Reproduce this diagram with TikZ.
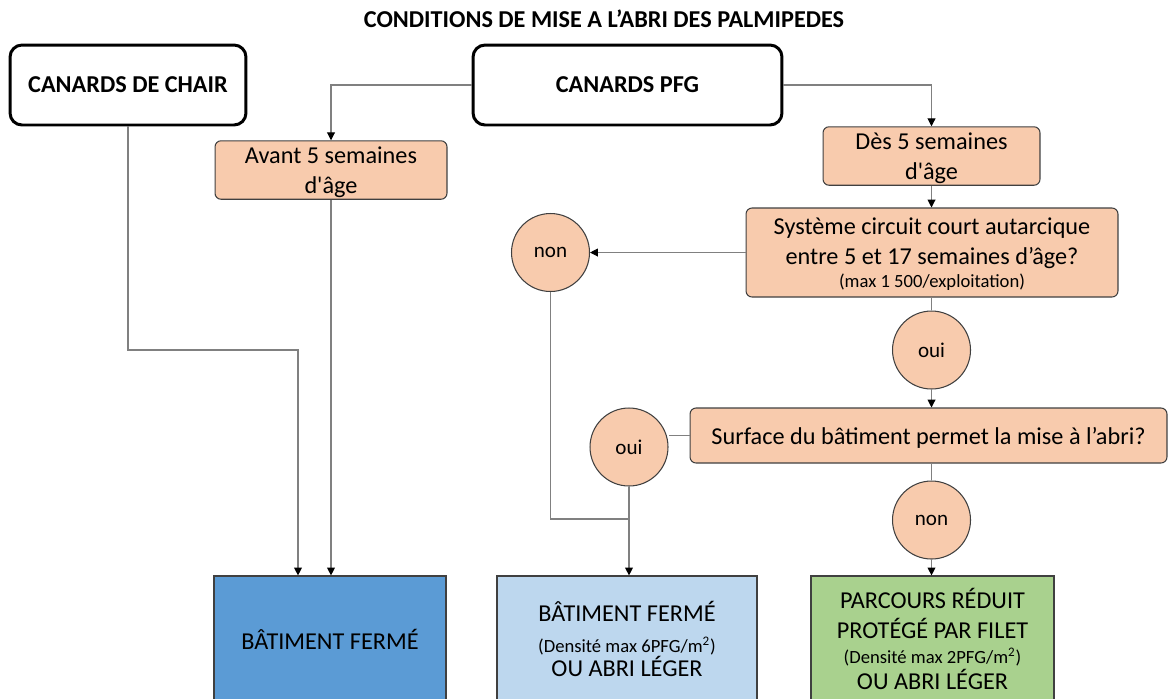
\documentclass[tikz,border=0pt]{standalone}
\usepackage{fontspec}
\setmainfont{Carlito}
\usepackage{xcolor}
\usepackage{tikz}
\usetikzlibrary{shapes.geometric, arrows.meta, positioning, calc}

\definecolor{peche}{HTML}{F8CBAD}
\definecolor{bleufonce}{HTML}{5B9BD5}
\definecolor{bleuclair}{HTML}{BDD7EE}
\definecolor{vertclair}{HTML}{A9D18E}
\definecolor{bordgris}{HTML}{404040}
\definecolor{liengris}{HTML}{808080}

\newcommand{\texte}{\fontsize{13.8}{17.1}\selectfont}
\newcommand{\petit}{\fontsize{10.6}{12.8}\selectfont}

\begin{document}
\begin{tikzpicture}[x=0.02cm, y=-0.02cm,
    categorie/.style={rectangle, draw=black, line width=1.7pt, rounded corners=0.24cm, font=\texte\bfseries, text centered, minimum height=1.6cm},
    etape/.style={rectangle, draw=bordgris, line width=0.6pt, fill=peche, rounded corners=0.12cm, font=\texte, align=center, text depth=0pt},
    reponse/.style={ellipse, draw=bordgris, line width=0.6pt, fill=peche, font=\fontsize{12}{14}\selectfont, minimum width=1.56cm, minimum height=1.56cm, inner sep=0pt},
    resultat/.style={rectangle, draw=bordgris, line width=0.7pt, font=\texte, align=center, minimum height=2.52cm},
    lien/.style={draw=liengris, line width=0.6pt},
    fleche/.style={lien, -{Triangle[length=4.5pt, width=4.5pt, color=black]}}]
    \useasboundingbox (0,0) rectangle (1168,698);

    % Nodes
    \node (titre) at (604,19) [font=\texte\bfseries] {CONDITIONS DE MISE A L'ABRI DES PALMIPEDES};

    \node (chair) at (128,85) [categorie, minimum width=4.72cm] {CANARDS DE CHAIR};
    \node (pfg) at (627.5,85) [categorie, minimum width=6.18cm] {CANARDS PFG};

    \node (avant) at (331,170) [etape, minimum width=4.64cm, minimum height=1.08cm] {Avant 5 semaines\\d\textquotesingle âge};
    \node (des) at (931.5,156) [etape, minimum width=4.34cm, minimum height=1.12cm] {Dès 5 semaines\\d\textquotesingle âge};

    \node (systeme) at (932,252.5) [etape, minimum width=7.44cm, minimum height=1.78cm] {Système circuit court autarcique\\entre 5 et 17 semaines d’âge?\\[-4pt]{\petit (max 1 500/exploitation)}};

    \node (non1) at (550.5,252.5) [reponse] {non};
    \node (oui1) at (931.5,350) [reponse] {oui};

    \node (surface) at (928.5,435.5) [etape, minimum width=9.54cm, minimum height=1.1cm] {Surface du bâtiment permet la mise à l’abri?};

    \node (oui2) at (629,447) [reponse] {oui};
    \node (non2) at (931.5,520) [reponse] {non};

    \node (bat1) at (330,639) [resultat, fill=bleufonce, minimum width=4.64cm] {BÂTIMENT FERMÉ};
    \node (bat2) at (627,639) [resultat, fill=bleuclair, minimum width=5.2cm] {BÂTIMENT FERMÉ\\{\petit (Densité max 6PFG/m\textsuperscript{2})}\\[-3.4pt]OU ABRI LÉGER};
    \node (parc) at (932.5,639) [resultat, fill=vertclair, minimum width=4.86cm] {PARCOURS RÉDUIT\\PROTÉGÉ PAR FILET\\[-3pt]{\petit (Densité max 2PFG/m\textsuperscript{2})}\\[-2.3pt]OU ABRI LÉGER};

    \coordinate (coude) at (298,350);
    \coordinate (jonction) at (629,519);

    % Edges
    \draw[fleche] (pfg.west) -| (avant.north);
    \draw[fleche] (pfg.east) -| (des.north);
    \draw[fleche] (des.south) -- (systeme.north -| des);
    \draw[fleche] (systeme.west) -- (non1.east);
    \draw[lien] (systeme.south -| oui1) -- (oui1.north);
    \draw[fleche] (oui1.south) -- (surface.north -| oui1);
    \draw[lien] (surface.west) -- (surface.west -| oui2.east);
    \draw[lien] (surface.south -| non2) -- (non2.north);
    \draw[fleche] (non2.south) -- (parc.north -| non2);
    \draw[fleche] (oui2.south) -- (bat2.north -| oui2);
    \draw[lien] (non1.south) |- (jonction);
    \draw[fleche] (chair.south) |- (coude) -- (bat1.north -| coude);
    \draw[fleche] (avant.south) -- (bat1.north -| avant);
\end{tikzpicture}
\end{document}
